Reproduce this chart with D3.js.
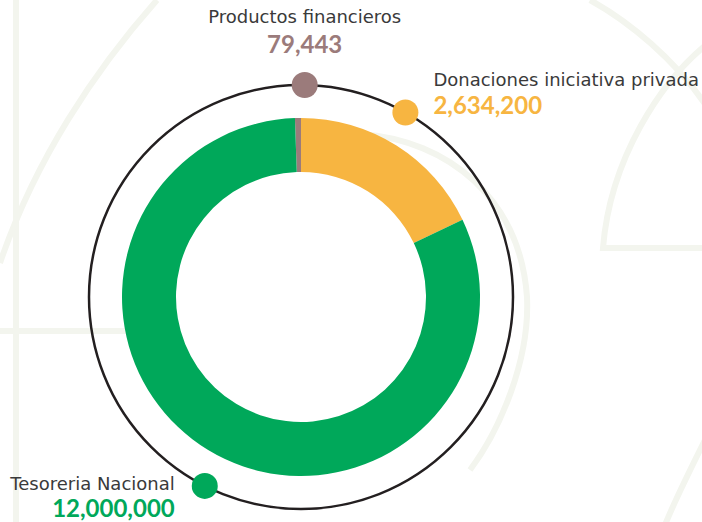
<!DOCTYPE html>
<html>
<head>
<meta charset="utf-8">
<script src="https://cdn.jsdelivr.net/npm/d3@7"></script>
<style>
  html, body { margin: 0; padding: 0; background: #fff; }
  svg { display: block; }
  .name { font-family: "DejaVu Sans", sans-serif; fill: #3a3a3a; }
  .value { font-family: Lato, sans-serif; font-weight: 700; }
</style>
</head>
<body>
<svg id="chart" width="702" height="522"></svg>
<script>
// data
const categories = ["Productos financieros", "Donaciones iniciativa privada", "Tesoreria Nacional"];
const values = [79443, 2634200, 12000000];
const colors = ["#9b7b7b", "#f7b541", "#00a85a"];

// layout
const width = 702, height = 522;
const cx = 301, cy = 297;
const rInner = 125, rOuter = 179, ringR = 212;
const dotAngles = [1, 29.5, 207]; // degrees clockwise from top
const labelPos = [
	{ anchor: "middle", dx: 0, nameDy: -62, valueDy: -32 },
	{ anchor: "start", dx: 28, nameDy: -26, valueDy: 2 },
	{ anchor: "end", dx: -30, nameDy: 4, valueDy: 31 }
];

const svg = d3.select("#chart");
const fmt = d3.format(",");

// faint background decoration
const deco = svg.append("g")
	.attr("fill", "none")
	.attr("stroke", "#f3f5ee")
	.attr("stroke-width", 6);
deco.append("line").attr("x1", 16).attr("y1", 0).attr("x2", 16).attr("y2", height);
deco.append("line").attr("x1", 0).attr("y1", 331).attr("x2", 150).attr("y2", 331);
deco.append("path").attr("d", "M157,0 C95,70 35,160 0,263");
deco.append("path").attr("d", "M590,0 C630,22 675,60 705,104");
deco.append("path").attr("d", "M712,40 C660,80 610,160 603,248 L702,248");
deco.append("path").attr("d", "M360,134 C450,140 520,200 527,297 C530,360 500,430 470,470");
deco.append("path").attr("d", "M705,440 C690,470 675,500 665,525");

const g = svg.append("g").attr("transform", `translate(${cx},${cy})`);

const total = d3.sum(values);
const start = -2 * Math.PI * values[0] / total;
const pie = d3.pie().sort(null).startAngle(start).endAngle(start + 2 * Math.PI);
const arc = d3.arc().innerRadius(rInner).outerRadius(rOuter);
const arcs = pie(values);

g.selectAll("path.slice")
	.data(arcs)
	.join("path")
	.attr("class", "slice")
	.attr("d", arc)
	.attr("fill", (d, i) => colors[i]);

// outer thin ring
g.append("circle")
	.attr("r", ringR)
	.attr("fill", "none")
	.attr("stroke", "#231f20")
	.attr("stroke-width", 2.5);

// dots + labels
const pts = dotAngles.map(a => {
	const t = a * Math.PI / 180;
	return [cx + ringR * Math.sin(t), cy - ringR * Math.cos(t)];
});

svg.selectAll("circle.dot")
	.data(categories)
	.join("circle")
	.attr("class", "dot")
	.attr("cx", (d, i) => pts[i][0])
	.attr("cy", (d, i) => pts[i][1])
	.attr("r", 13)
	.attr("fill", (d, i) => colors[i]);

svg.selectAll("text.name")
	.data(categories)
	.join("text")
	.attr("class", "name")
	.attr("x", (d, i) => pts[i][0] + labelPos[i].dx)
	.attr("y", (d, i) => pts[i][1] + labelPos[i].nameDy)
	.attr("text-anchor", (d, i) => labelPos[i].anchor)
	.attr("font-size", 18)
	.text(d => d);

svg.selectAll("text.value")
	.data(values)
	.join("text")
	.attr("class", "value")
	.attr("x", (d, i) => pts[i][0] + labelPos[i].dx)
	.attr("y", (d, i) => pts[i][1] + labelPos[i].valueDy)
	.attr("text-anchor", (d, i) => labelPos[i].anchor)
	.attr("font-size", 24)
	.attr("fill", (d, i) => colors[i])
	.text(d => fmt(d));
</script>
</body>
</html>
